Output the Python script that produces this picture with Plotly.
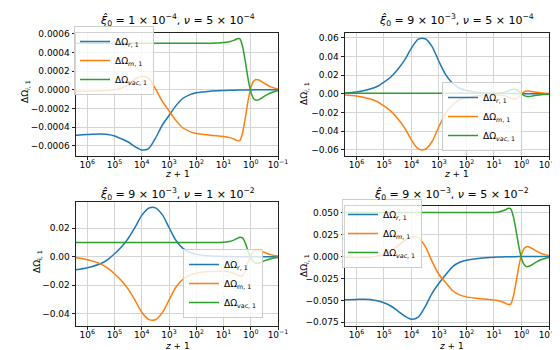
import plotly.graph_objects as go

# log10(z+1) sample points
log_zp1 = [6.42, 6.0, 5.5, 5.25, 5.0, 4.75, 4.5, 4.25, 4.0, 3.75, 3.5, 3.25, 3.0,
           2.75, 2.5, 2.25, 2.0, 1.5, 1.0, 0.8, 0.6, 0.5, 0.4, 0.3, 0.2, 0.1, 0.0,
           -0.1, -0.2, -0.3, -0.4, -0.55, -0.7, -0.85, -1.0]
zp1 = [10 ** e for e in log_zp1]

# panel a: xi0 = 1e-4, nu = 5e-4
r_a = [-0.000487, -0.000480, -0.000475, -0.000480, -0.000495, -0.000525, -0.000560,
       -0.000610, -0.000645, -0.000630, -0.000520, -0.000380, -0.000275, -0.000172,
       -0.000093, -0.000054, -0.000032, -0.000014, -0.000007, -0.000005, -0.000004,
       -0.000003, -0.000003, -0.000002, -0.000002, -0.000001, -0.000001,
       0, 0, 0, 0, 0, 0, 0, 0]
m_a = [-0.000014, -0.000014, -0.000010, -0.000005, 0.0, 0.000020, 0.000057,
       0.000115, 0.000147, 0.000122, 0.000014, -0.000122, -0.000225, -0.000328,
       -0.000407, -0.000446, -0.000468, -0.000486, -0.000500, -0.000510, -0.000530,
       -0.000545, -0.000545, -0.000460, -0.000300, -0.000120, 0.000020,
       0.000093, 0.000112, 0.000105, 0.000088, 0.000060, 0.000037, 0.000021, 0.000010]
vac_a = [0.0005] * 18 + [0.000507, 0.000515, 0.000534, 0.000548, 0.000548, 0.000462,
                         0.000302, 0.000121, -0.000019, -0.000093, -0.000112, -0.000105,
                         -0.000088, -0.000060, -0.000037, -0.000021, -0.000010]

# panel b: xi0 = 9e-3, nu = 5e-4
r_b = [0.0009, 0.0020, 0.0052, 0.0078, 0.0125, 0.0180, 0.0260, 0.0360, 0.0488,
       0.0584, 0.0588, 0.0505, 0.0345, 0.0202, 0.0112, 0.0059, 0.0035, 0.0012,
       0.0005, 0.0004, 0.0004, 0.0004, 0.0004, 0.0004, 0.0003, 0.0002, 0.0001,
       0, 0, 0, 0, 0, 0, 0, 0]
m_b = [-0.0013, -0.0024, -0.0056, -0.0082, -0.0130, -0.0185, -0.0265, -0.0365,
       -0.0493, -0.0589, -0.0593, -0.0510, -0.0350, -0.0207, -0.0117, -0.0064,
       -0.0040, -0.0017, -0.0010, -0.0013, -0.0022, -0.0033, -0.0045, -0.0054,
       -0.0052, -0.0032, -0.0002, 0.0020, 0.0029, 0.0028, 0.0023, 0.0016, 0.0010,
       0.0006, 0.0003]
vac_b = [0.0005] * 19 + [0.0009, 0.0018, 0.0029, 0.0041, 0.0048, 0.0046, 0.0028,
                         0.0001, -0.0020, -0.0029, -0.0028, -0.0023, -0.0016,
                         -0.0010, -0.0006, -0.0003]

# panel c: xi0 = 9e-3, nu = 1e-2
r_c = [-0.0092, -0.0078, -0.0048, -0.0020, 0.0020, 0.0068, 0.0128, 0.0205, 0.0290,
       0.0340, 0.0343, 0.0295, 0.0205, 0.0115, 0.0060, 0.0031, 0.0016, 0.0005,
       0.0002, 0.0001, 0, 0, 0, 0, 0, 0, 0, 0, 0, 0, 0, 0, 0, 0, 0]
m_c = [-0.0008, -0.0022, -0.0052, -0.0080, -0.0120, -0.0168, -0.0228, -0.0305,
       -0.0390, -0.0440, -0.0443, -0.0395, -0.0305, -0.0215, -0.0160, -0.0131,
       -0.0116, -0.0105, -0.0103, -0.0107, -0.0118, -0.0128, -0.0137, -0.0132,
       -0.0095, -0.0040, 0.0008, 0.0036, 0.0046, 0.0044, 0.0037, 0.0026, 0.0016,
       0.0009, 0.0005]
vac_c = [0.0100] * 18 + [0.0101, 0.0106, 0.0118, 0.0128, 0.0137, 0.0132, 0.0095,
                         0.0040, -0.0008, -0.0036, -0.0046, -0.0044, -0.0037,
                         -0.0026, -0.0016, -0.0009, -0.0005]

# panel d: xi0 = 9e-3, nu = 5e-2
r_d = [-0.0492, -0.0489, -0.0490, -0.0505, -0.0527, -0.0564, -0.0620, -0.0678,
       -0.0716, -0.0690, -0.0570, -0.0420, -0.0305, -0.0205, -0.0115, -0.0066,
       -0.0042, -0.0019, -0.0008, -0.0006, -0.0004, -0.0003, -0.0003, -0.0002,
       -0.0002, -0.0001, -0.0001, 0, 0, 0, 0, 0, 0, 0, 0]
m_d = [-0.0011, -0.0013, -0.0010, 0.0005, 0.0025, 0.0062, 0.0118, 0.0182, 0.0222,
       0.0215, 0.0115, -0.0055, -0.0205, -0.0300, -0.0390, -0.0437, -0.0460,
       -0.0482, -0.0496, -0.0508, -0.0530, -0.0545, -0.0545, -0.0460, -0.0300,
       -0.0120, 0.0020, 0.0093, 0.0112, 0.0105, 0.0088, 0.0060, 0.0037, 0.0021,
       0.0010]
vac_d = [0.0500] * 18 + [0.0502, 0.0510, 0.0530, 0.0546, 0.0545, 0.0460, 0.0300,
                         0.0120, -0.0020, -0.0095, -0.0117, -0.0108, -0.0090,
                         -0.0062, -0.0038, -0.0022, -0.0011]

titles = ["<i>ξ̂</i><sub>0</sub> = 1 × 10<sup>−4</sup>, <i>ν</i> = 5 × 10<sup>−4</sup>",
          "<i>ξ̂</i><sub>0</sub> = 9 × 10<sup>−3</sup>, <i>ν</i> = 5 × 10<sup>−4</sup>",
          "<i>ξ̂</i><sub>0</sub> = 9 × 10<sup>−3</sup>, <i>ν</i> = 1 × 10<sup>−2</sup>",
          "<i>ξ̂</i><sub>0</sub> = 9 × 10<sup>−3</sup>, <i>ν</i> = 5 × 10<sup>−2</sup>"]
x_ticks = [1e6, 1e5, 1e4, 1e3, 1e2, 1e1, 1e0, 1e-1]
x_ticktext = ["10<sup>6</sup>", "10<sup>5</sup>", "10<sup>4</sup>", "10<sup>3</sup>",
              "10<sup>2</sup>", "10<sup>1</sup>", "10<sup>0</sup>", "10<sup>−1</sup>"]

FONT = "DejaVu Sans"
colors = ["#1f77b4", "#ff7f0e", "#2ca02c"]

panels = [
    dict(r=r_a, m=m_a, v=vac_a, xd=[68, 270], yd=[25, 148], yr=[-0.00071, 0.00061],
         dt=0.0002, fmt=".4f", leg=(66, 18, "left", "top"), ital=True,
         ylab=(17, 84), xlab=(169, 166), tit=(169, 12)),
    dict(r=r_b, m=m_b, v=vac_b, xd=[337, 541], yd=[25, 148], yr=[-0.0665, 0.0650],
         dt=0.02, fmt=".2f", leg=(434, 74, "left", "top"), ital=True,
         ylab=(296, 86), xlab=(448, 166), tit=(448, 12)),
    dict(r=r_c, m=m_c, v=vac_c, xd=[68, 270], yd=[194, 318], yr=[-0.0487, 0.0384],
         dt=0.02, fmt=".2f", leg=(175, 241, "left", "top"), ital=False,
         ylab=(29, 254), xlab=(169, 338), tit=(169, 186)),
    dict(r=r_d, m=m_d, v=vac_d, xd=[337, 541], yd=[198, 318], yr=[-0.0792, 0.0575],
         dt=0.025, fmt=".3f", leg=(334, 191, "left", "top"), ital=True,
         ylab=(296, 258), xlab=(443, 338), tit=(443, 186)),
]

W, H = 560, 350
fig = go.Figure()
layout = dict(width=W, height=H, margin=dict(l=0, r=0, t=0, b=0),
              plot_bgcolor="white", paper_bgcolor="white",
              font=dict(family=FONT, size=9, color="black"), annotations=[])

for i, p in enumerate(panels, start=1):
    sfx = "" if i == 1 else str(i)
    legname = "legend" + sfx
    if p["ital"]:
        names = ["ΔΩ<sub><i>r</i>, 1</sub>", "ΔΩ<sub><i>m</i>, 1</sub>", "ΔΩ<sub><i>vac</i>, 1</sub>"]
        ylab = "ΔΩ<sub><i>i</i>, 1</sub>"
    else:
        names = ["ΔΩ<sub>r, 1</sub>", "ΔΩ<sub>m, 1</sub>", "ΔΩ<sub>vac, 1</sub>"]
        ylab = "ΔΩ<sub>i, 1</sub>"
    for ys, nm, c in zip([p["r"], p["m"], p["v"]], names, colors):
        fig.add_trace(go.Scatter(x=zp1, y=ys, name=nm, mode="lines",
                                 line=dict(color=c, width=1.5, shape="spline", smoothing=0.8),
                                 xaxis="x" + sfx, yaxis="y" + sfx, legend=legname))
    layout["xaxis" + sfx] = dict(
        domain=[p["xd"][0] / W, p["xd"][1] / W], anchor="y" + sfx, type="log",
        range=[6.415, -1], autorange=False, tickvals=x_ticks, ticktext=x_ticktext,
        showgrid=True, gridcolor="#d4d4d4", gridwidth=0.8, showline=True, mirror=True,
        linecolor="#222", linewidth=0.8, ticks="outside", ticklen=3.5, tickcolor="#222",
        zeroline=False, automargin=False, tickfont=dict(size=9), ticklabelstandoff=-3)
    layout["yaxis" + sfx] = dict(
        domain=[1 - p["yd"][1] / H, 1 - p["yd"][0] / H], anchor="x" + sfx,
        range=p["yr"], autorange=False, dtick=p["dt"], tick0=0, tickformat=p["fmt"],
        showgrid=True, gridcolor="#d4d4d4", gridwidth=0.8, showline=True, mirror=True,
        linecolor="#222", linewidth=0.8, ticks="outside", ticklen=3.5, tickcolor="#222",
        zeroline=False, automargin=False, tickfont=dict(size=9))
    lx, ly, xa, ya = p["leg"]
    layout[legname] = dict(x=lx / W, y=1 - ly / H, xanchor=xa, yanchor=ya,
                           bgcolor="rgba(255,255,255,0.8)", bordercolor="#cccccc",
                           borderwidth=1, font=dict(size=9), itemwidth=30,
                           tracegroupgap=0)
    layout["annotations"] += [
        dict(text=titles[i - 1], x=p["tit"][0] / W, y=1 - p["tit"][1] / H,
             xref="paper", yref="paper", showarrow=False, font=dict(size=11),
             xanchor="center", yanchor="middle"),
        dict(text=ylab, x=p["ylab"][0] / W, y=1 - p["ylab"][1] / H, textangle=-90,
             xref="paper", yref="paper", showarrow=False, font=dict(size=9),
             xanchor="center", yanchor="middle"),
        dict(text="<i>z</i> + 1", x=p["xlab"][0] / W, y=1 - p["xlab"][1] / H,
             xref="paper", yref="paper", showarrow=False, font=dict(size=9),
             xanchor="center", yanchor="middle"),
    ]

fig.update_layout(**layout)
fig.write_html("out.html")
